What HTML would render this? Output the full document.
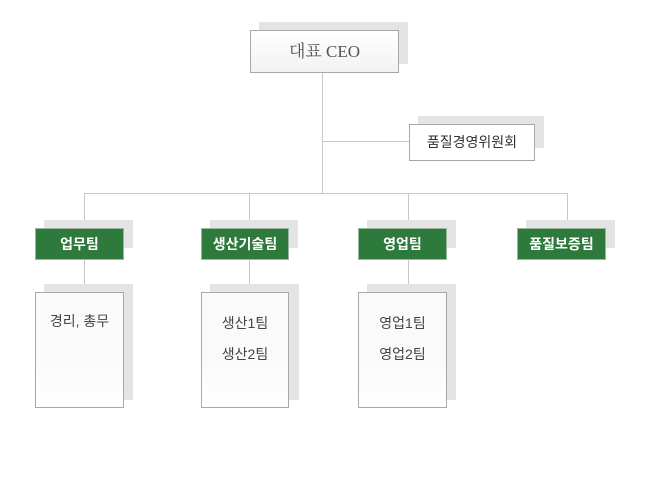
<!DOCTYPE html><html><head><meta charset="utf-8"><style>
body{margin:0;width:650px;height:500px;background:#fff;position:relative;overflow:hidden;font-family:"Liberation Sans","Noto Sans CJK KR",sans-serif}
div{position:absolute;box-sizing:border-box}
.sh{background:#e4e4e4}
.ln{background:#c8c8c8}
.g{background:#2e7a3c;border:1px solid #9ab59f;color:#fff;font-size:14px;font-weight:bold;text-align:center;line-height:30px}
.w{background:linear-gradient(#fafafa,#fafafa 60%,#fff);border:1px solid #a8a8a8;color:#444;font-size:14px;text-align:center}
</style></head><body>
<div class="ln" style="left:322px;top:72px;width:1px;height:122px"></div>
<div class="ln" style="left:322px;top:141px;width:88px;height:1px"></div>
<div class="ln" style="left:84px;top:193px;width:484px;height:1px"></div>
<div class="ln" style="left:84px;top:193px;width:1px;height:100px"></div>
<div class="ln" style="left:249px;top:193px;width:1px;height:100px"></div>
<div class="ln" style="left:408px;top:193px;width:1px;height:100px"></div>
<div class="ln" style="left:567px;top:193px;width:1px;height:36px"></div>

<div class="sh" style="left:259px;top:22px;width:149px;height:42px"></div>
<div class="w" style="left:250px;top:30px;width:149px;height:43px;font-family:'Liberation Serif','Noto Serif CJK SC',serif;font-size:17px;line-height:41px;color:#555;background:linear-gradient(#fff,#f2f2f2)">대표 CEO</div>

<div class="sh" style="left:418px;top:116px;width:126px;height:32px"></div>
<div class="w" style="left:409px;top:124px;width:126px;height:37px;line-height:35px;background:#fff;color:#333">품질경영위원회</div>

<div class="sh" style="left:44px;top:220px;width:89px;height:28px"></div>
<div class="g" style="left:35px;top:228px;width:89px;height:32px">업무팀</div>
<div class="sh" style="left:210px;top:220px;width:88px;height:28px"></div>
<div class="g" style="left:201px;top:228px;width:88px;height:32px">생산기술팀</div>
<div class="sh" style="left:367px;top:220px;width:89px;height:28px"></div>
<div class="g" style="left:358px;top:228px;width:89px;height:32px">영업팀</div>
<div class="sh" style="left:526px;top:220px;width:89px;height:28px"></div>
<div class="g" style="left:517px;top:228px;width:89px;height:32px">품질보증팀</div>

<div class="sh" style="left:44px;top:284px;width:89px;height:116px"></div>
<div class="w" style="left:35px;top:292px;width:89px;height:116px;padding-top:18px">경리, 총무</div>
<div class="sh" style="left:210px;top:284px;width:89px;height:116px"></div>
<div class="w" style="left:201px;top:292px;width:88px;height:116px;padding-top:15px;line-height:31px">생산1팀<br>생산2팀</div>
<div class="sh" style="left:367px;top:284px;width:89px;height:116px"></div>
<div class="w" style="left:358px;top:292px;width:89px;height:116px;padding-top:15px;line-height:31px">영업1팀<br>영업2팀</div>
</body></html>
